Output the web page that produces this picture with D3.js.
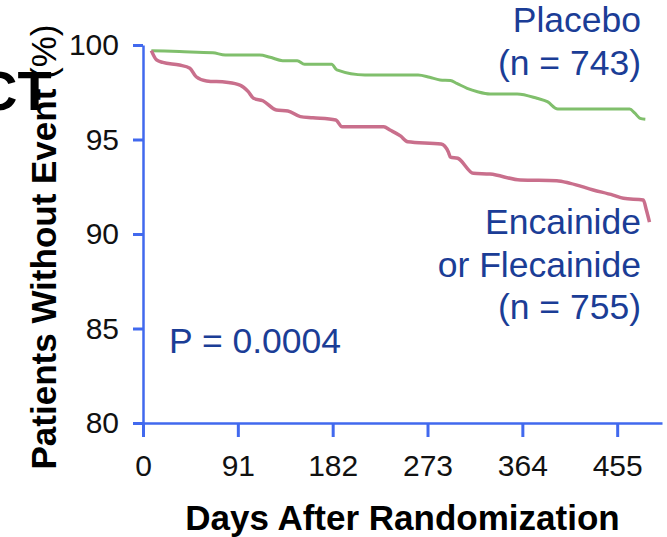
<!DOCTYPE html>
<html>
<head>
<meta charset="utf-8">
<script src="https://cdn.jsdelivr.net/npm/d3@7"></script>
<style>
  html, body { margin: 0; padding: 0; background: #fff; }
  svg { display: block; font-family: "Liberation Sans", Arial, sans-serif; }
</style>
</head>
<body>
<svg id="chart" width="667" height="537"></svg>
<script>
// Kaplan-Meier style curves: [day, % without event]
const placebo = [
  [8, 99.70], [35, 99.65], [67, 99.59], [79, 99.47], [112, 99.47],
  [122, 99.35], [134, 99.17], [148, 99.17], [155, 98.98], [181, 98.98],
  [186, 98.68], [213, 98.41], [264, 98.41], [275, 98.29], [285, 98.15],
  [295, 98.12], [301, 97.97], [311, 97.71], [321, 97.53], [333, 97.41],
  [359, 97.41], [378, 97.18], [388, 97.0], [398, 96.61], [467, 96.61],
  [472, 96.39], [477, 96.12], [482, 96.07]
];
const drug = [
  [8, 99.70], [13, 99.21], [19, 99.08], [35, 98.94], [45, 98.77],
  [51, 98.32], [61, 98.10], [80, 98.03], [93, 97.88], [101, 97.53],
  [106, 97.18], [115, 97.05], [128, 96.56], [139, 96.51], [151, 96.21],
  [163, 96.15], [185, 96.03], [191, 95.67], [231, 95.67], [237, 95.50],
  [247, 95.19], [254, 94.88], [286, 94.76], [293, 94.34], [295, 94.07],
  [302, 94.01], [317, 93.21], [333, 93.17], [362, 92.86], [397, 92.82],
  [410, 92.68], [432, 92.33], [451, 92.06], [461, 91.89], [480, 91.80],
  [483, 91.27], [486, 90.63]
];
const xTicks = [0, 91, 182, 273, 364, 455];
const yTicks = [80, 85, 90, 95, 100];
const placeboLabel = ["Placebo", "(n = 743)"];
const drugLabel = ["Encainide", "or Flecainide", "(n = 755)"];
const pLabel = "P = 0.0004";

const svg = d3.select("#chart");
const axisColor = "#4169ee";
const textBlue = "#1b3d96";

const x = d3.scaleLinear().domain([0, 498]).range([143, 662]);
const y = d3.scaleLinear().domain([80, 100]).range([423, 45]);

// stray slide title fragment at top-left
svg.append("text")
  .attr("x", -23).attr("y", 110)
  .style("font-size", "56px").style("font-weight", "bold")
  .attr("fill", "#000")
  .text("CT");

// axes
const yAxisG = svg.append("g")
  .attr("transform", `translate(${x(0)},0)`)
  .call(d3.axisLeft(y).tickValues(yTicks).tickSize(10).tickSizeOuter(0).tickPadding(14));
const xAxisG = svg.append("g")
  .attr("transform", `translate(0,${y(80)})`)
  .call(d3.axisBottom(x).tickValues(xTicks).tickSize(14).tickSizeOuter(0).tickPadding(10));

[yAxisG, xAxisG].forEach(g => {
  g.select(".domain").attr("stroke", axisColor).attr("stroke-width", 2.5);
  g.selectAll(".tick line").attr("stroke", axisColor).attr("stroke-width", 3);
  g.selectAll("text")
    .attr("fill", "#111")
    .style("font-family", "'Liberation Sans', Arial, sans-serif")
    .style("font-size", "30px");
});
xAxisG.selectAll("text").attr("dy", "0.95em");

// curves
const line = d3.line()
  .x(d => x(d[0]))
  .y(d => y(d[1]))
  .curve(d3.curveMonotoneX);

svg.append("path")
  .datum(placebo)
  .attr("fill", "none")
  .attr("stroke", "#80bf6c")
  .attr("stroke-width", 3)
  .attr("stroke-linejoin", "round")
  .attr("d", line);

svg.append("path")
  .datum(drug)
  .attr("fill", "none")
  .attr("stroke", "#c96f8c")
  .attr("stroke-width", 3.5)
  .attr("stroke-linejoin", "round")
  .attr("d", line);

// axis titles
svg.append("text")
  .attr("x", (x.range()[0] + x.range()[1]) / 2)
  .attr("y", 530)
  .attr("text-anchor", "middle")
  .style("font-size", "35px").style("font-weight", "bold")
  .attr("fill", "#000")
  .text("Days After Randomization");

const yTitle = svg.append("text")
  .attr("transform", "translate(56,247) rotate(-90)")
  .attr("text-anchor", "middle")
  .style("font-size", "35px")
  .attr("fill", "#000");
yTitle.append("tspan").style("font-weight", "bold").text("Patients Without Event");
yTitle.append("tspan").text(" (%)");

// annotations
function block(lines, xr, y0, step) {
  svg.append("g").selectAll("text")
    .data(lines)
    .join("text")
    .attr("x", xr)
    .attr("y", (d, i) => y0 + i * step)
    .attr("text-anchor", "end")
    .style("font-size", "35.5px")
    .attr("fill", textBlue)
    .text(d => d);
}
block(placeboLabel, 641, 32, 43);
block(drugLabel, 641, 234, 42.5);

svg.append("text")
  .attr("x", 169).attr("y", 353)
  .style("font-size", "35.5px")
  .attr("fill", textBlue)
  .text(pLabel);
</script>
</body>
</html>
